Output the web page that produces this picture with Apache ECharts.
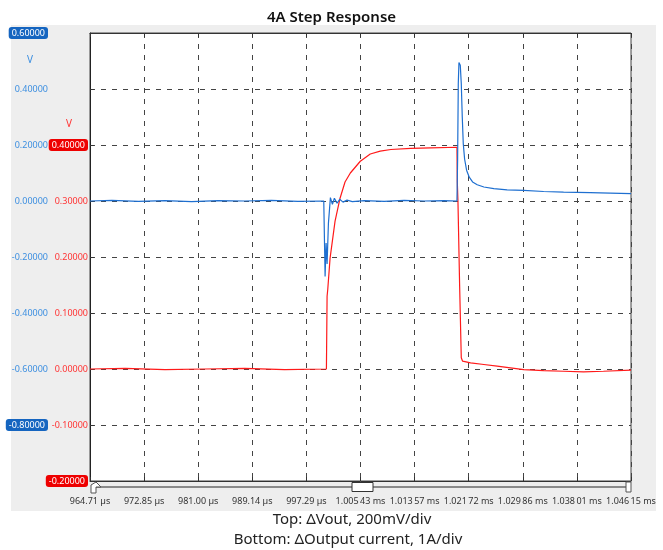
<!DOCTYPE html>
<html>
<head>
<meta charset="utf-8">
<title>4A Step Response</title>
<script src="https://cdn.jsdelivr.net/npm/echarts@6/dist/echarts.min.js"></script>
<style>
  html, body { margin: 0; padding: 0; background: #fff; }
  #chart { width: 663px; height: 550px; }
</style>
</head>
<body>
<div id="chart"></div>
<script>
  /* time base (µs) */
  var T0 = 964.71;
  var T1 = 1046.15;
  var xStep = 8.144;
  var xTickLabels = ['964.71 µs', '972.85 µs', '981.00 µs', '989.14 µs', '997.29 µs',
    '1.005\u200943 ms', '1.013\u200957 ms', '1.021\u200972 ms', '1.029\u200986 ms', '1.038\u200901 ms', '1.046\u200915 ms'];

  /* top trace: ΔVout (V) */
  var voutTime = [964.71, 968, 972, 976, 980, 984, 988, 992, 996, 999.9, 1000.1, 1000.25, 1000.4,
    1000.6, 1000.9, 1001.2, 1001.5, 1001.9, 1002.3, 1002.8, 1003.4, 1004.2, 1006, 1009, 1012,
    1015, 1018, 1019.95, 1020.05, 1020.15, 1020.25, 1020.45, 1020.6, 1020.75, 1020.9, 1021.1,
    1021.4, 1021.8, 1022.3, 1023.0, 1024.0, 1025.5, 1027.5, 1030, 1033, 1036, 1040, 1043, 1046.15];
  var voutValue = [0.000, 0.002, -0.001, 0.001, -0.002, 0.001, 0.000, 0.002, -0.001, 0.000, -0.270,
    -0.150, -0.225, -0.080, 0.012, -0.012, 0.010, -0.008, 0.006, -0.004, 0.003, -0.002, 0.001,
    -0.001, 0.002, 0.000, 0.001, 0.000, 0.150, 0.420, 0.495, 0.485, 0.420, 0.300, 0.205, 0.150,
    0.110, 0.085, 0.068, 0.058, 0.050, 0.044, 0.040, 0.038, 0.034, 0.032, 0.030, 0.028, 0.026];

  /* bottom trace: ΔOutput current (scaled, red scale) */
  var ioutTime = [964.71, 970, 976, 982, 988, 994, 1000.3, 1000.4, 1000.5, 1000.85, 1001.6,
    1002.35, 1003.1, 1003.9, 1005.4, 1006.9, 1008.4, 1010, 1013, 1016, 1019.95, 1020.0, 1020.1,
    1020.35, 1020.6, 1020.8, 1022, 1024, 1026, 1028, 1030, 1033, 1036, 1039, 1042, 1046.15];
  var ioutValue = [0.000, 0.001, -0.001, 0.000, 0.001, -0.001, 0.000, 0.130, 0.142, 0.198, 0.264,
    0.305, 0.334, 0.350, 0.371, 0.384, 0.389, 0.392, 0.394, 0.395, 0.396, 0.335, 0.300,
    0.150, 0.020, 0.014, 0.011, 0.008, 0.005, 0.002, -0.001, -0.003, -0.004, -0.005, -0.004, -0.002];

  var blueHighlight = [0.6, -0.8];
  var redHighlight = [0.4, -0.2];

  function pairs(ts, vs) {
    var out = [];
    for (var i = 0; i < ts.length; i++) {
      out.push([ts[i] - T0, vs[i]]);
    }
    return out;
  }

  function isOne(v, list) {
    for (var i = 0; i < list.length; i++) {
      if (Math.abs(v - list[i]) < 1e-6) return true;
    }
    return false;
  }

  var FONT = 'Noto Sans';
  var dashed = { color: '#444', type: [5, 6], width: 1 };

  var chart = echarts.init(document.getElementById('chart'));
  var option = {
    animation: false,
    textStyle: { fontFamily: FONT },
    title: {
      text: '4A Step Response',
      left: 'center',
      top: 5,
      textStyle: { fontSize: 15, fontWeight: 600, color: '#111', fontFamily: FONT }
    },
    grid: {
      left: 90,
      right: 32,
      top: 33,
      bottom: 69,
      show: true,
      backgroundColor: '#fff',
      borderColor: '#444',
      borderWidth: 1
    },
    xAxis: [{
      type: 'value',
      min: 0,
      max: T1 - T0,
      interval: xStep,
      axisLine: { show: true, onZero: false, lineStyle: { color: '#333' } },
      axisTick: { show: true, inside: true, length: 4, lineStyle: { color: '#333' } },
      splitLine: { show: true, lineStyle: dashed },
      axisLabel: {
        margin: 16,
        fontSize: 9,
        color: '#333',
        showMinLabel: true,
        showMaxLabel: true,
        formatter: function (v) {
          var i = Math.round(v / xStep);
          return xTickLabels[i] || '';
        }
      }
    }, {
      type: 'value',
      position: 'top',
      min: 0,
      max: T1 - T0,
      interval: xStep,
      axisLine: { show: true, onZero: false, lineStyle: { color: '#333' } },
      axisTick: { show: true, inside: true, length: 4, lineStyle: { color: '#333' } },
      splitLine: { show: false },
      axisLabel: { show: false }
    }],
    yAxis: [{
      /* blue scale (Vout) */
      type: 'value',
      position: 'left',
      offset: 40,
      min: -1.0,
      max: 0.6,
      interval: 0.2,
      axisLine: { show: false, onZero: false },
      axisTick: { show: false },
      splitLine: { show: true, lineStyle: dashed },
      axisLabel: {
        margin: 2,
        fontSize: 9,
        color: '#3d8fe0',
        formatter: function (v) {
          if (Math.abs(v + 1.0) < 1e-6) return '';
          var s = v.toFixed(5);
          return isOne(v, blueHighlight) ? '{hb|' + s + '}' : s;
        },
        rich: {
          hb: { backgroundColor: '#1565c0', color: '#fff', borderRadius: 3, padding: [2, 3, 1, 3], fontSize: 9 }
        }
      }
    }, {
      /* red scale (current) */
      type: 'value',
      position: 'left',
      offset: 0,
      min: -0.2,
      max: 0.6,
      interval: 0.1,
      axisLine: { show: true, onZero: false, lineStyle: { color: '#222' } },
      axisTick: { show: true, inside: true, length: 4, lineStyle: { color: '#333' } },
      splitLine: { show: false },
      axisLabel: {
        margin: 2,
        fontSize: 9,
        color: '#ff3333',
        formatter: function (v) {
          if (v > 0.45) return '';
          var s = v.toFixed(5);
          return isOne(v, redHighlight) ? '{hr|' + s + '}' : s;
        },
        rich: {
          hr: { backgroundColor: '#ee0000', color: '#fff', borderRadius: 3, padding: [2, 3, 1, 3], fontSize: 9 }
        }
      }
    }],
    series: [{
      name: 'ΔOutput current',
      type: 'line',
      xAxisIndex: 0,
      yAxisIndex: 1,
      showSymbol: false,
      data: pairs(ioutTime, ioutValue),
      lineStyle: { color: '#ff1a1a', width: 1.2 },
      z: 3
    }, {
      name: 'ΔVout',
      type: 'line',
      xAxisIndex: 0,
      yAxisIndex: 0,
      showSymbol: false,
      data: pairs(voutTime, voutValue),
      lineStyle: { color: '#1e6fd0', width: 1.2 },
      z: 4
    }],
    graphic: [
      /* grey panel behind the plot */
      { type: 'rect', z: -100, shape: { x: 11, y: 25, width: 645, height: 486 }, style: { fill: '#eeeeee' } },
      /* unit labels */
      { type: 'text', z: 100, style: { x: 30, y: 60, text: 'V', fill: '#3d8fe0', fontSize: 10, fontFamily: FONT, textAlign: 'center', textVerticalAlign: 'middle' } },
      { type: 'text', z: 100, style: { x: 69, y: 124, text: 'V', fill: '#ff3333', fontSize: 10, fontFamily: FONT, textAlign: 'center', textVerticalAlign: 'middle' } },
      /* scroll bar under the plot */
      { type: 'line', z: 100, shape: { x1: 91, y1: 487, x2: 630, y2: 487 }, style: { stroke: '#8a8a8a', lineWidth: 2 } },
      { type: 'polygon', z: 101, shape: { points: [[91, 493], [96, 493], [96, 487], [101, 487], [96, 482], [91, 485]] }, style: { fill: '#fff', stroke: '#555', lineWidth: 1 } },
      { type: 'rect', z: 101, shape: { x: 626, y: 482, width: 5, height: 10 }, style: { fill: '#fff', stroke: '#555', lineWidth: 1 } },
      { type: 'rect', z: 101, shape: { x: 352, y: 482.5, width: 21, height: 9 }, style: { fill: '#fff', stroke: '#333', lineWidth: 1 } },
      /* captions */
      { type: 'text', z: 100, style: { x: 352, y: 520, text: 'Top: ΔVout, 200mV/div', fill: '#222', fontSize: 15, fontFamily: FONT, textAlign: 'center', textVerticalAlign: 'middle' } },
      { type: 'text', z: 100, style: { x: 348, y: 540, text: 'Bottom: ΔOutput current, 1A/div', fill: '#222', fontSize: 15, fontFamily: FONT, textAlign: 'center', textVerticalAlign: 'middle' } }
    ]
  };
  chart.setOption(option);
</script>
</body>
</html>
